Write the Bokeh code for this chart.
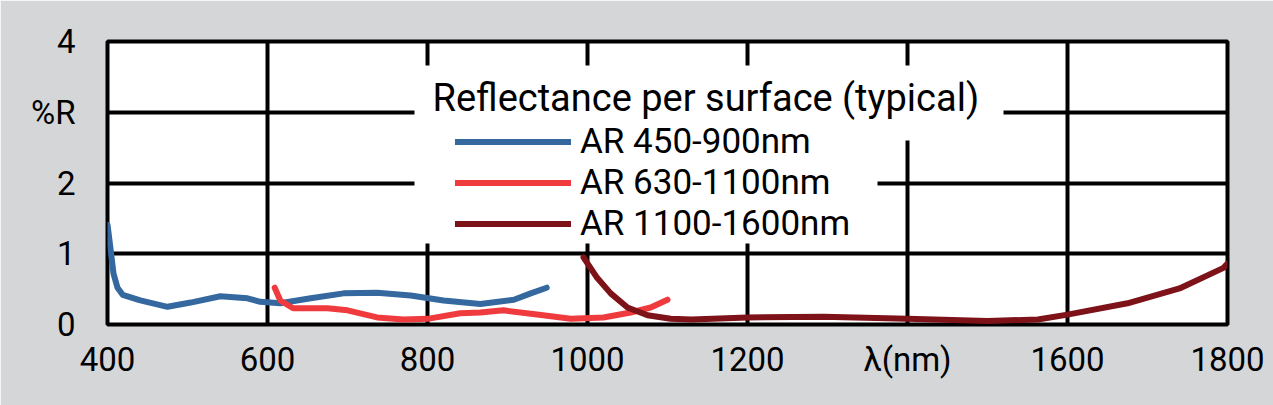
from bokeh.plotting import figure
from bokeh.models import Legend, LegendItem, Label, BoxAnnotation, FixedTicker, Range1d
from bokeh.embed import file_html
from bokeh.resources import INLINE

# ---- data ----
wl_450_900 = [400, 404, 407.5, 412.5, 419, 441, 475, 504, 541, 575, 591, 616, 654, 695, 737, 779, 820, 866, 908, 929, 949]
r_450_900 = [1.41, 1.05, 0.72, 0.52, 0.42, 0.34, 0.25, 0.31, 0.40, 0.37, 0.32, 0.30, 0.37, 0.44, 0.45, 0.41, 0.34, 0.29, 0.35, 0.44, 0.52]

wl_630_1100 = [609, 616, 632, 675, 700, 737, 770, 800, 841, 866, 895, 937, 979, 1020, 1054, 1079, 1100]
r_630_1100 = [0.52, 0.34, 0.23, 0.23, 0.20, 0.10, 0.07, 0.08, 0.16, 0.17, 0.20, 0.14, 0.08, 0.10, 0.17, 0.24, 0.35]

wl_1100_1600 = [995, 1012, 1029, 1050, 1075, 1104, 1130, 1200, 1295, 1400, 1500, 1563, 1600, 1675, 1740, 1795, 1800]
r_1100_1600 = [0.95, 0.66, 0.44, 0.24, 0.13, 0.08, 0.07, 0.10, 0.11, 0.08, 0.05, 0.07, 0.14, 0.30, 0.51, 0.80, 0.86]

series_names = ["AR 450-900nm", "AR 630-1100nm", "AR 1100-1600nm"]
series_colors = ["#34689e", "#ef3b3e", "#7d1218"]
legend_title = "Reflectance per surface (typical)"

x_ticks = [400, 600, 800, 1000, 1200, 1400, 1600, 1800]
x_tick_overrides = {1400: "λ(nm)"}
y_ticks = [0, 1, 2, 3, 4]
y_tick_overrides = {3: "%R"}

FONT = "Roboto"

p = figure(width=1273, height=405, output_backend="svg", toolbar_location=None,
           x_range=Range1d(400, 1800), y_range=Range1d(0, 4),
           min_border_left=107, min_border_right=46, min_border_top=41, min_border_bottom=81)

p.background_fill_color = "white"
p.border_fill_color = "#d5d6d8"
p.outline_line_color = "black"
p.outline_line_width = 4
p.outline_line_alpha = 1

for g, t in ((p.xgrid, x_ticks), (p.ygrid, y_ticks)):
    g.ticker = FixedTicker(ticks=t)
    g.grid_line_color = "black"
    g.grid_line_width = 4
    g.grid_line_alpha = 1

for ax, t, ov, so in ((p.xaxis, x_ticks, x_tick_overrides, 15), (p.yaxis, y_ticks, y_tick_overrides, 32)):
    ax.ticker = FixedTicker(ticks=t)
    ax.major_label_overrides = ov
    ax.axis_line_color = None
    ax.major_tick_line_color = None
    ax.minor_tick_line_color = None
    ax.major_tick_out = 0
    ax.major_tick_in = 0
    ax.minor_tick_out = 0
    ax.minor_tick_in = 0
    ax.major_label_text_font = FONT
    ax.major_label_text_font_size = "33px"
    ax.major_label_text_color = "black"
    ax.major_label_standoff = so

# white areas behind the legend (cover the grid)
box_title = BoxAnnotation(left=307, right=896, top=259, bottom=184,
                          left_units="screen", right_units="screen", top_units="screen", bottom_units="screen",
                          fill_color="white", fill_alpha=1, line_color=None)
box_items = BoxAnnotation(left=307, right=770, top=186, bottom=81,
                          left_units="screen", right_units="screen", top_units="screen", bottom_units="screen",
                          fill_color="white", fill_alpha=1, line_color=None)
p.add_layout(box_title)
p.add_layout(box_items)

renderers = []
for xs, ys, c in ((wl_450_900, r_450_900, series_colors[0]),
                  (wl_630_1100, r_630_1100, series_colors[1]),
                  (wl_1100_1600, r_1100_1600, series_colors[2])):
    r = p.line(xs, ys, line_color=c, line_width=6, line_cap="round", line_join="round")
    renderers.append(r)

title = Label(x=325, y=227, x_units="screen", y_units="screen", text=legend_title,
              text_font=FONT, text_font_size="38px", text_color="black",
              text_align="left", text_baseline="alphabetic")
p.add_layout(title)

legend = Legend(items=[LegendItem(label=n, renderers=[r]) for n, r in zip(series_names, renderers)],
                location=(348, 80), glyph_width=116, glyph_height=41, label_height=41,
                label_standoff=9, spacing=0, padding=0, margin=0,
                background_fill_alpha=0, border_line_color=None,
                label_text_font=FONT, label_text_font_size="35px", label_text_color="black")
p.add_layout(legend)

open("out.html", "w").write(file_html(p, INLINE))
